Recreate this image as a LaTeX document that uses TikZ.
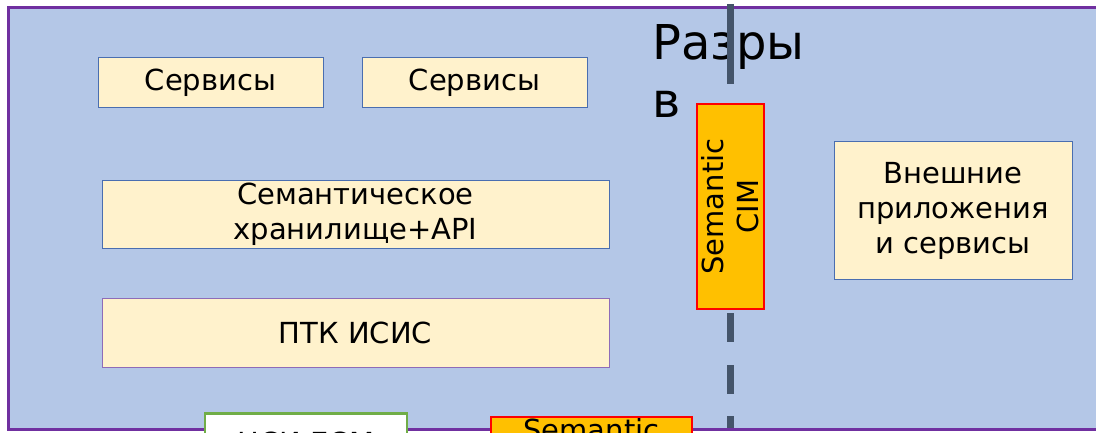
\documentclass[tikz,border=0pt]{standalone}
\usepackage{fontspec}
\setmainfont{DejaVu Sans}
\definecolor{panelfill}{HTML}{B4C7E7}
\definecolor{panelline}{HTML}{7030A0}
\definecolor{boxfill}{HTML}{FFF2CC}
\definecolor{boxblue}{HTML}{4A6EB0}
\definecolor{boxviolet}{HTML}{8E6CB8}
\definecolor{cimfill}{HTML}{FFC000}
\definecolor{cimline}{HTML}{FF0000}
\definecolor{splitline}{HTML}{44546A}
\definecolor{nsiline}{HTML}{70AD47}
\begin{document}
\begin{tikzpicture}[x=1pt,y=-1pt,
  label text/.style={font=\fontsize{29}{35}\selectfont, text=black, align=center},
  layerbox/.style={label text, draw=boxblue, line width=1pt, fill=boxfill,
    rectangle, inner sep=0pt},
  cimbox/.style={label text, draw=cimline, line width=2pt, fill=cimfill,
    rectangle, inner sep=0pt},
  nsibox/.style={label text, draw=nsiline, line width=2.5pt, fill=white,
    rectangle, inner xsep=0pt},
  splitter/.style={draw=splitline, line width=7pt,
    dash pattern=on 80pt off 229pt on 29pt off 23pt on 29pt off 22pt on 29pt}]
\useasboundingbox (0,0) rectangle (1096,433);
\clip (0,0) rectangle (1096,433);

% background panel
\draw[fill=panelfill, draw=panelline, line width=3pt]
  (8.5,7.5) rectangle (1115,429.5);

% section title
\node[font=\fontsize{48}{58}\selectfont, align=left, anchor=north west,
  inner sep=0pt] (title) at (652,24) {Разры\\в};

% service and storage layers
\node[layerbox, minimum width=225pt, minimum height=50pt] (serv1)
  at (210.5,83) {Сервисы};
\node[layerbox, minimum width=225pt, minimum height=50pt] (serv2)
  at (474.5,83) {Сервисы};
\node[layerbox, minimum width=507pt, minimum height=67pt] (store)
  at (355.5,214.5) {Семантическое\\хранилище+API};
\node[layerbox, draw=boxviolet, minimum width=507pt, minimum height=69pt] (ptk)
  at (355.5,332.5) {ПТК ИСИС};
\node[layerbox, minimum width=238pt, minimum height=137pt] (ext)
  at (953,210.5) {Внешние\\приложения\\и сервисы};

% boundary line
\coordinate (splittop) at (730.5,4);
\coordinate (splitbot) at (730.5,428);
\draw[splitter] (splittop) -- (splitbot);

% semantic CIM gateway on the boundary
\node[cimbox, rotate=90, minimum width=205pt, minimum height=67pt] (cim)
  at (730.5,206.5) {Semantic\\CIM};

% lower row
\node[nsibox, anchor=north, minimum width=202pt, inner ysep=19pt,
  text height=21pt, text depth=6pt] (nsi) at (306,412) {НСИ ЕСМ};
\node[cimbox, anchor=north, minimum width=201pt, inner ysep=2pt,
  text height=21pt, text depth=6pt] (semlow) at (591.5,416) {Semantic};
\end{tikzpicture}
\end{document}
